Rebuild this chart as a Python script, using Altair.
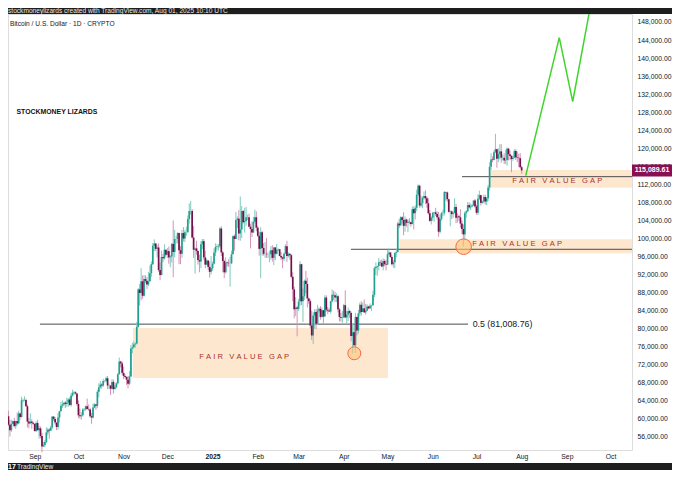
import altair as alt
import pandas as pd

FONT = "Liberation Sans"

# ---------------- BTC/USD daily candles (thousands of USD) ----------------
FIRST_DAY = "2024-08-14"
FIRST_OPEN = 60.6  # close of 2024-08-13

close_k = [
    # Aug 2024 (14-31)
    58.7, 57.5, 58.9, 59.5, 58.4, 59.5, 59.0, 61.2, 60.4, 64.1, 64.2, 64.2, 62.8, 59.4, 59.0, 59.4, 59.1, 58.9,
    # Sep 2024
    57.3, 59.1, 57.5, 57.9, 56.2, 53.9, 54.2, 54.9, 57.0, 57.6, 57.4, 58.1, 60.5, 60.0, 59.2, 58.2, 60.3, 61.7,
    62.9, 63.2, 63.6, 63.3, 63.6, 64.3, 63.1, 65.2, 65.8, 65.9, 65.6, 63.3,
    # Oct 2024
    60.8, 60.6, 60.8, 62.1, 62.1, 62.8, 62.2, 62.1, 60.6, 60.3, 62.5, 63.2, 62.9, 66.0, 67.0, 67.6, 67.4, 68.4,
    68.4, 69.0, 67.4, 67.4, 66.7, 68.2, 66.6, 67.0, 67.9, 69.9, 72.7, 72.3, 70.2,
    # Nov 2024
    69.5, 69.3, 68.7, 67.8, 69.4, 75.6, 75.9, 76.5, 76.7, 80.4, 88.7, 87.9, 90.5, 87.3, 91.0, 90.6, 89.8, 90.5,
    92.3, 94.3, 98.4, 98.9, 97.7, 98.0, 93.0, 91.9, 95.9, 95.6, 97.5, 96.4,
    # Dec 2024
    97.2, 95.8, 96.0, 98.8, 97.0, 99.9, 99.9, 101.2, 97.4, 96.6, 101.2, 100.0, 101.4, 101.4, 104.3, 106.1, 106.1,
    100.2, 97.5, 97.8, 97.2, 95.2, 94.9, 98.7, 99.4, 95.8, 94.2, 95.1, 93.7, 92.6, 93.4,
    # Jan 2025
    94.4, 96.9, 98.1, 98.2, 98.3, 102.2, 96.9, 95.0, 92.5, 94.7, 94.6, 94.5, 94.5, 96.5, 100.5, 99.9, 104.1,
    104.4, 101.1, 102.0, 106.1, 103.6, 103.9, 104.7, 104.7, 102.6, 102.1, 101.3, 103.7, 104.7, 102.4,
    # Feb 2025
    100.6, 97.7, 101.4, 97.9, 96.6, 96.6, 96.5, 96.5, 96.5, 97.4, 95.7, 98.0, 96.6, 97.5, 97.6, 96.1, 95.8, 95.5,
    96.6, 98.3, 96.1, 96.6, 96.3, 91.5, 88.7, 84.3, 84.7, 84.4,
    # Mar 2025
    86.0, 94.3, 86.1, 87.2, 90.6, 89.9, 86.7, 86.1, 80.7, 78.5, 82.9, 83.7, 81.1, 84.0, 84.4, 82.6, 84.1, 82.7,
    86.9, 84.2, 84.0, 83.8, 86.1, 87.5, 87.4, 86.9, 87.2, 84.3, 82.6, 82.4, 82.5,
    # Apr 2025
    85.2, 82.5, 83.1, 83.9, 83.5, 78.4, 79.2, 76.3, 82.6, 79.6, 83.4, 85.3, 83.7, 84.5, 83.6, 84.0, 84.9, 84.5,
    85.1, 85.2, 87.5, 93.4, 93.7, 93.9, 94.7, 94.6, 93.8, 95.0, 94.3, 94.2,
    # May 2025
    96.5, 96.9, 95.9, 94.3, 94.7, 96.8, 97.0, 103.3, 102.9, 104.7, 104.1, 102.8, 104.2, 103.5, 103.7, 103.6,
    103.2, 106.5, 105.6, 106.8, 109.7, 111.7, 107.3, 107.8, 109.0, 109.4, 108.9, 107.8, 105.6, 103.9, 104.6,
    # Jun 2025
    105.7, 105.8, 105.4, 104.7, 101.5, 104.3, 105.6, 105.7, 110.3, 110.2, 108.7, 105.9, 106.0, 105.4, 105.6,
    107.0, 104.6, 104.9, 104.7, 103.3, 102.1, 100.9, 105.6, 106.0, 107.4, 106.9, 107.1, 107.3, 108.4, 107.1,
    # Jul 2025
    105.7, 108.8, 109.6, 107.9, 108.2, 109.2, 108.2, 108.9, 111.3, 115.9, 117.5, 117.4, 119.1, 119.8, 117.7,
    118.7, 119.3, 117.9, 117.9, 117.3, 117.4, 119.9, 118.7, 118.3, 117.6, 117.9, 119.4, 118.0, 117.9, 117.8, 115.8,
    # Aug 1 2025
    115.08961,
]

high_k = [
    61.8, 59.8, 59.8, 59.6, 60.2, 59.6, 61.4, 61.8, 61.4, 64.9, 64.5, 65.0, 64.5, 63.2, 60.2, 61.2, 59.9, 59.4,
    58.9, 59.4, 59.8, 58.5, 58.3, 56.9, 54.9, 55.3, 58.1, 58.0, 57.9, 58.5, 60.6, 60.6, 60.4, 59.2, 61.3, 61.8,
    63.8, 64.1, 63.6, 64.0, 64.7, 64.6, 64.8, 65.8, 66.5, 66.2, 66.1, 65.6,
    64.1, 62.3, 61.5, 62.4, 62.4, 63.0, 64.5, 63.2, 62.5, 61.3, 63.4, 63.5, 63.3, 66.5, 67.9, 68.4, 67.9, 68.9,
    68.6, 69.4, 69.5, 67.8, 67.5, 68.8, 68.7, 67.5, 68.1, 70.2, 73.6, 72.9, 72.7,
    71.6, 69.9, 69.4, 69.5, 70.6, 76.4, 76.9, 77.2, 76.9, 81.5, 89.0, 89.9, 93.4, 91.8, 91.9, 91.8, 91.5, 92.6,
    94.0, 94.9, 99.0, 99.8, 98.8, 98.6, 98.9, 94.7, 97.3, 96.6, 98.7, 97.5,
    97.9, 98.2, 96.3, 99.0, 104.0, 101.9, 100.5, 101.4, 101.3, 98.3, 101.9, 102.5, 101.9, 102.6, 105.1, 107.8,
    108.3, 106.5, 102.8, 98.0, 99.5, 97.4, 96.4, 99.4, 99.9, 99.9, 97.3, 95.5, 95.2, 94.9, 96.1,
    94.9, 97.8, 98.9, 98.7, 98.8, 102.5, 102.7, 97.2, 95.3, 95.8, 94.9, 95.4, 95.9, 97.3, 100.7, 100.9, 105.9,
    104.9, 106.3, 109.3, 107.2, 106.3, 106.8, 107.0, 105.3, 105.5, 103.3, 103.8, 104.8, 106.4, 106.0,
    102.8, 101.5, 102.5, 101.7, 99.0, 99.2, 100.1, 96.9, 97.3, 98.3, 98.5, 98.1, 98.1, 98.8, 97.8, 97.7, 97.0,
    96.0, 96.9, 98.7, 99.5, 96.9, 96.7, 96.5, 92.5, 89.3, 87.0, 85.0,
    86.6, 95.0, 94.4, 88.9, 90.9, 92.8, 91.3, 86.9, 86.5, 84.0, 83.6, 84.3, 84.4, 85.3, 84.7, 85.0, 84.7, 84.1,
    87.4, 87.4, 84.8, 84.5, 86.1, 88.7, 88.4, 88.2, 87.8, 87.5, 84.6, 83.5, 83.9,
    85.5, 88.5, 83.9, 84.7, 84.2, 83.8, 81.2, 80.8, 83.5, 82.7, 84.2, 85.8, 86.1, 85.8, 86.5, 85.5, 85.4, 85.1,
    85.6, 85.3, 88.4, 93.8, 94.7, 94.0, 95.7, 95.2, 95.3, 95.6, 95.4, 95.2,
    97.4, 97.8, 96.9, 96.3, 95.2, 96.9, 97.7, 103.7, 104.3, 104.9, 104.9, 105.8, 104.9, 104.4, 104.2, 104.5,
    103.7, 107.1, 107.1, 107.3, 110.8, 112.0, 111.9, 109.5, 109.3, 110.4, 110.7, 109.3, 108.9, 106.3, 104.9,
    105.9, 105.9, 106.8, 106.0, 105.9, 105.3, 105.9, 106.4, 110.5, 110.4, 110.4, 108.8, 106.2, 106.2, 106.0,
    108.9, 107.7, 105.6, 105.3, 106.5, 104.0, 103.1, 106.0, 106.3, 108.1, 108.0, 107.7, 107.6, 108.5, 108.8,
    107.5, 109.8, 110.6, 109.7, 108.4, 109.7, 109.7, 109.2, 111.9, 116.9, 118.9, 118.2, 119.5, 123.2, 119.9,
    120.0, 120.9, 120.9, 118.6, 118.9, 119.7, 120.2, 120.1, 119.5, 118.5, 118.4, 119.8, 119.8, 119.3, 118.8, 118.9,
    116.1,
]

low_k = [
    58.4, 56.1, 57.1, 58.8, 58.1, 57.8, 58.6, 58.8, 59.8, 60.3, 63.6, 63.9, 62.7, 58.1, 57.9, 58.8, 57.8, 58.7,
    57.2, 57.1, 57.4, 55.6, 55.7, 52.6, 53.8, 53.7, 54.6, 56.4, 55.6, 57.3, 57.7, 59.5, 58.7, 57.5, 57.6, 59.2,
    61.6, 62.4, 62.8, 62.4, 62.7, 62.7, 62.9, 62.7, 64.9, 65.4, 65.4, 62.9,
    60.2, 60.0, 59.8, 60.5, 61.7, 61.8, 62.1, 61.8, 60.3, 58.9, 60.1, 62.4, 62.0, 62.4, 64.8, 66.7, 66.7, 67.1,
    68.1, 68.1, 66.6, 66.6, 65.3, 66.5, 65.6, 66.5, 66.8, 67.6, 69.8, 71.4, 69.7,
    68.8, 69.0, 67.5, 66.8, 67.5, 69.3, 74.5, 75.6, 75.8, 76.5, 80.2, 85.1, 86.3, 86.6, 87.1, 90.1, 88.8, 89.4,
    90.4, 91.5, 94.1, 97.2, 97.2, 95.8, 92.6, 90.8, 91.8, 94.7, 95.3, 96.0,
    95.7, 94.4, 93.6, 94.7, 91.4, 95.8, 98.9, 98.9, 94.3, 94.3, 95.7, 99.3, 99.2, 100.6, 101.2, 103.3, 105.3,
    100.0, 95.7, 92.2, 96.4, 94.2, 92.5, 93.4, 97.6, 95.2, 93.4, 94.1, 93.0, 91.3, 92.0,
    92.8, 94.2, 96.1, 97.5, 97.3, 97.9, 96.1, 92.5, 91.2, 92.2, 93.8, 93.7, 89.3, 94.3, 96.5, 97.3, 99.9,
    102.3, 99.6, 99.5, 100.1, 103.3, 101.3, 102.8, 104.1, 102.5, 97.8, 100.3, 101.3, 103.3, 101.6,
    100.3, 96.2, 91.2, 96.2, 96.2, 95.7, 95.7, 95.7, 94.7, 95.3, 94.9, 94.1, 95.2, 96.4, 97.2, 96.1, 95.2, 93.4,
    95.0, 96.5, 94.8, 95.8, 95.3, 91.2, 86.1, 82.3, 82.8, 78.3,
    83.9, 85.1, 85.2, 81.5, 86.4, 87.8, 84.7, 85.4, 80.1, 77.5, 76.6, 80.0, 79.9, 80.8, 83.6, 82.0, 82.4, 81.2,
    82.6, 83.7, 83.2, 83.7, 83.3, 85.8, 86.3, 85.9, 85.9, 83.6, 81.6, 81.6, 81.3,
    82.4, 82.3, 81.2, 81.7, 82.4, 77.2, 74.5, 76.2, 74.6, 78.5, 78.9, 82.8, 82.9, 83.7, 83.6, 83.1, 83.9, 84.3,
    84.5, 83.9, 85.1, 87.0, 91.9, 91.7, 92.9, 93.9, 93.6, 92.9, 93.8, 92.9,
    94.1, 96.3, 95.7, 94.0, 93.5, 93.4, 95.8, 96.9, 102.3, 102.8, 103.3, 100.7, 101.5, 102.6, 101.4, 103.1,
    102.6, 103.1, 102.0, 104.2, 106.1, 109.3, 106.8, 106.9, 106.7, 108.6, 107.6, 106.8, 105.3, 103.7, 103.1,
    103.9, 103.7, 105.0, 104.2, 100.4, 101.1, 103.9, 104.9, 105.1, 108.4, 108.1, 105.7, 102.7, 104.3, 104.6,
    105.6, 103.4, 103.5, 103.9, 102.4, 101.0, 98.2, 99.6, 104.6, 105.9, 106.6, 106.3, 106.9, 107.2, 106.8,
    105.3, 105.2, 108.5, 107.3, 107.7, 107.8, 107.5, 107.4, 108.3, 110.6, 115.2, 116.9, 117.3, 118.9, 115.7,
    116.9, 117.5, 116.8, 117.3, 116.5, 116.5, 116.1, 117.3, 117.4, 114.7, 117.2, 117.8, 117.4, 116.9, 115.8, 115.5,
    114.3,
]

# ---------------- annotations ----------------
GAP_START = ["2024-11-07T09:36:00Z", "2025-05-09T02:24:00Z", "2025-07-10T07:12:00Z"]
GAP_END = ["2025-05-01T07:12:00Z", "2025-10-15T16:05:00Z", "2025-10-15T16:05:00Z"]
GAP_LOW = [69.06, 96.71, 111.26]
GAP_HIGH = [80.15, 99.82, 115.18]

LEVEL_START = ["2024-09-04T14:24:00Z", "2025-04-05T21:36:00Z", "2025-06-21T02:24:00Z"]
LEVEL_END = ["2025-06-25T04:48:00Z", "2025-10-15T16:05:00Z", "2025-10-15T16:05:00Z"]
LEVEL_PRICE = [81.00876, 97.60, 113.70]

GAP_TEXT_DATE = ["2025-01-22T16:48:00Z", "2025-07-28T21:36:00Z", "2025-08-25T09:36:00Z"]
GAP_TEXT_PRICE = [73.72, 98.71, 112.81]
NB = "\u00a0"
GAP_TEXT = (NB * 3).join(NB.join(word) for word in ["FAIR", "VALUE", "GAP"])

HALF_TEXT_DATE = "2025-06-28T09:36:00Z"
HALF_TEXT = "0.5 (81,008.76)"

TOUCH_DATE = ["2025-04-08T04:48:00Z", "2025-06-22T04:48:00Z"]
TOUCH_PRICE = [74.54, 98.18]
TOUCH_SIZE = [167, 243]

PATH_DATE = ["2025-08-03T19:12:00Z", "2025-08-26T19:12:00Z", "2025-09-05T00:00:00Z", "2025-09-20T12:00:00Z"]
PATH_PRICE = [113.92, 144.52, 130.33, 157.31]

LAST_PRICE = 115.08961
LAST_LABEL = "115,089.61"

PRICE_TICKS = [56, 60, 64, 68, 72, 76, 80, 84, 88, 92, 96, 100, 104, 108, 112, 116, 120, 124, 128,
               132, 136, 140, 144, 148]
MONTH_TICKS = [(2024, 9), (2024, 10), (2024, 11), (2024, 12), (2025, 1), (2025, 2), (2025, 3), (2025, 4),
               (2025, 5), (2025, 6), (2025, 7), (2025, 8), (2025, 9), (2025, 10)]

# ---------------- layout ----------------
W, H = 624, 436
PAD = {"left": 0, "top": 6, "right": 40, "bottom": 20}
FULL_W = W + PAD["right"]
UP_BODY, UP_WICK = "#1fa090", "#7fcbbd"
DN_BODY, DN_WICK = "#74114b", "#d493b8"
TEXT_DARK = "#131722"
FRAME = "#1e1e1e"

# ---------------- frames ----------------
opens = [FIRST_OPEN] + close_k[:-1]
candles = pd.DataFrame({
    "date": pd.date_range(FIRST_DAY, periods=len(close_k), freq="D").strftime("%Y-%m-%d"),
    "o": opens,
    "c": close_k,
    "h": [max(h, o, c) for h, o, c in zip(high_k, opens, close_k)],
    "l": [min(l, o, c) for l, o, c in zip(low_k, opens, close_k)],
})
gaps = pd.DataFrame({"s": GAP_START, "e": GAP_END, "lo": GAP_LOW, "hi": GAP_HIGH})
levels = pd.DataFrame({"s": LEVEL_START, "e": LEVEL_END, "p": LEVEL_PRICE})
gap_txt = pd.DataFrame({"d": GAP_TEXT_DATE, "p": GAP_TEXT_PRICE, "t": [GAP_TEXT] * 3})
half_txt = pd.DataFrame({"d": [HALF_TEXT_DATE], "p": [LEVEL_PRICE[0]], "t": [HALF_TEXT]})
touches = pd.DataFrame({"d": TOUCH_DATE, "p": TOUCH_PRICE, "s": TOUCH_SIZE})
path = pd.DataFrame({"d": PATH_DATE, "p": PATH_PRICE, "i": list(range(len(PATH_DATE)))})
last = pd.DataFrame({"p": [LAST_PRICE], "lo": [LAST_PRICE - 1.33], "hi": [LAST_PRICE + 1.33], "t": [LAST_LABEL]})
one = pd.DataFrame({"k": [0]})

XS = alt.Scale(type="utc", domain=[alt.DateTime(year=2024, month=8, date=13, hours=16, minutes=34, utc=True),
                                   alt.DateTime(year=2025, month=10, date=15, hours=16, minutes=5, utc=True)])
YS = alt.Scale(domain=[53.10, 149.77], nice=False, zero=False)

AXIS_COMMON = dict(
    title=None, grid=False, ticks=False, tickSize=0, tickOpacity=0, domain=False, domainOpacity=0,
    labelFontSize=6.8, labelColor=TEXT_DARK, labelFont=FONT, labelFlush=False, labelOverlap=False,
)
XAXIS = alt.Axis(
    values=[alt.DateTime(year=y, month=m, date=1, utc=True) for y, m in MONTH_TICKS],
    labelExpr="utcFormat(datum.value, '%m') == '01' ? utcFormat(datum.value, '%Y') : utcFormat(datum.value, '%b')",
    labelFontWeight={"condition": {"test": "utcFormat(datum.value, '%m') == '01'", "value": "bold"},
                     "value": "normal"},
    labelPadding=3, **AXIS_COMMON,
)
YAXIS = alt.Axis(
    orient="right", values=PRICE_TICKS, labelExpr="format(datum.value * 1000, ',.2f')",
    labelPadding=5, labelAlign="left", **AXIS_COMMON,
)


def X(f):
    return alt.X(f"{f}:T", scale=XS, axis=XAXIS)


def Y(f):
    return alt.Y(f"{f}:Q", scale=YS, axis=YAXIS)


top_bar = alt.Chart(one).mark_rect(color=FRAME).encode(
    x=alt.value(0), x2=alt.value(FULL_W), y=alt.value(-PAD["top"]), y2=alt.value(0))
bottom_bar = alt.Chart(one).mark_rect(color=FRAME).encode(
    x=alt.value(0), x2=alt.value(FULL_W), y=alt.value(449), y2=alt.value(H + PAD["bottom"]))

gap_rects = alt.Chart(gaps).mark_rect(color="#fde8cf").encode(
    x=X("s"), x2="e:T", y=Y("lo"), y2="hi:Q")

level_lines = alt.Chart(levels).mark_rule(color="#4a4a4a", strokeWidth=1).encode(
    x=X("s"), x2="e:T", y=Y("p"))

up = "datum.c >= datum.o"
dn = "datum.c < datum.o"
wick_up = alt.Chart(candles).transform_filter(up).mark_rule(color=UP_WICK, strokeWidth=1.0).encode(
    x=X("date"), y=Y("l"), y2="h:Q")
wick_dn = alt.Chart(candles).transform_filter(dn).mark_rule(color=DN_WICK, strokeWidth=1.0).encode(
    x=X("date"), y=Y("l"), y2="h:Q")
body_up = alt.Chart(candles).transform_filter(up).mark_rule(color=UP_BODY, strokeWidth=1.7).encode(
    x=X("date"), y=Y("o"), y2="c:Q")
body_dn = alt.Chart(candles).transform_filter(dn).mark_rule(color=DN_BODY, strokeWidth=1.7).encode(
    x=X("date"), y=Y("o"), y2="c:Q")

touch_marks = alt.Chart(touches).mark_circle(
    fill="#ffc47a", fillOpacity=0.6, stroke="#ef6a4c", strokeWidth=1, strokeOpacity=1).encode(
    x=X("d"), y=Y("p"), size=alt.Size("s:Q", scale=None, legend=None))

path_line = alt.Chart(path).mark_line(color="#3fd42c", strokeWidth=1.5, clip=True).encode(
    x=X("d"), y=Y("p"), order="i:Q")

gap_labels = alt.Chart(gap_txt).mark_text(
    color="#a8322d", fontSize=7.6, font=FONT, align="center", baseline="middle").encode(
    x=X("d"), y=Y("p"), text="t:N")

half_label = alt.Chart(half_txt).mark_text(
    color=TEXT_DARK, fontSize=8.8, font=FONT, align="left", baseline="middle").encode(
    x=X("d"), y=Y("p"), text="t:N")

last_box = alt.Chart(last).mark_rect(color="#8a0f52").encode(
    x=alt.value(W), x2=alt.value(FULL_W), y=Y("lo"), y2="hi:Q")
last_text = alt.Chart(last).mark_text(
    color="white", fontSize=7, font=FONT, fontWeight="bold", align="center", baseline="middle").encode(
    x=alt.value(W + 20), y=Y("p"), text="t:N")

top_text = alt.Chart(one).mark_text(
    text="stockmoneylizards created with TradingView.com, Aug 01, 2025 10:10 UTC",
    color="#e8e8e8", fontSize=6.6, font=FONT, align="left", baseline="alphabetic").encode(
    x=alt.value(0), y=alt.value(-1))
title_text = alt.Chart(one).mark_text(
    text="Bitcoin / U.S. Dollar · 1D · CRYPTO",
    color=TEXT_DARK, fontSize=6.6, font=FONT, align="left", baseline="middle").encode(
    x=alt.value(2), y=alt.value(9.5))
brand_text = alt.Chart(one).mark_text(
    text="STOCKMONEY LIZARDS",
    color="#111111", fontSize=6.9, font=FONT, fontWeight="bold", align="left", baseline="middle").encode(
    x=alt.value(8.5), y=alt.value(97.7))
logo_text = alt.Chart(one).mark_text(
    text="17", color="white", fontSize=7, font=FONT, fontWeight="bold", align="left",
    baseline="middle").encode(x=alt.value(0), y=alt.value(452.5))
tv_text = alt.Chart(one).mark_text(
    text="TradingView", color="#e8e8e8", fontSize=6.6, font=FONT, align="left",
    baseline="middle").encode(x=alt.value(9), y=alt.value(452.5))

chart = alt.layer(
    top_bar, bottom_bar, gap_rects, level_lines, wick_up, wick_dn, body_up, body_dn, touch_marks, path_line,
    gap_labels, half_label, last_box, last_text, top_text, title_text, brand_text, logo_text, tv_text,
).properties(
    width=W, height=H, padding=PAD, autosize=alt.AutoSizeParams(type="none"),
    background="white",
).configure_view(stroke="transparent", strokeWidth=0).configure_axis(
    domain=False, ticks=False, grid=False
).configure(font=FONT)

chart.save("out.html", embed_options={"renderer": "svg", "actions": False})
